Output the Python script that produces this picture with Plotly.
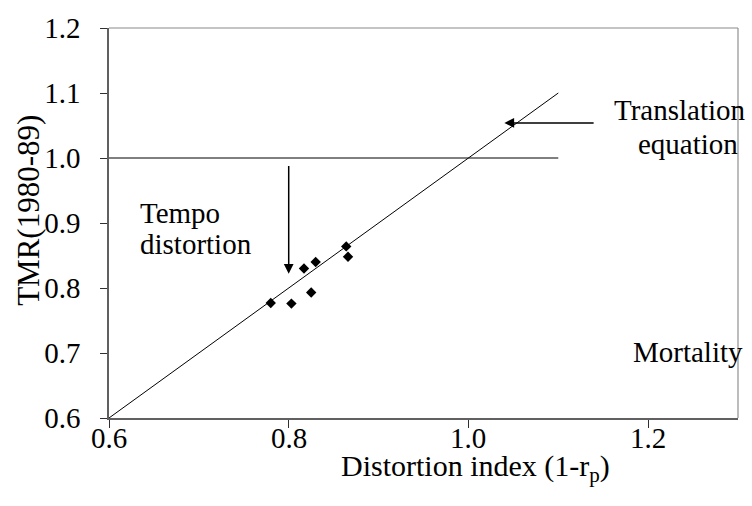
import plotly.graph_objects as go

# Data
dist_index = [0.780, 0.803, 0.817, 0.830, 0.825, 0.864, 0.866]
tmr = [0.777, 0.776, 0.830, 0.840, 0.793, 0.864, 0.848]

line_x = [0.6, 1.1]
line_y = [0.6, 1.1]
hline_x = [0.6, 1.1]
hline_y = [1.0, 1.0]

x_ticks = [0.6, 0.8, 1.0, 1.2]
x_tick_labels = ["0.6", "0.8", "1.0", "1.2"]
y_ticks = [0.6, 0.7, 0.8, 0.9, 1.0, 1.1, 1.2]

FONT = "Liberation Serif, Times New Roman, serif"
FS = 29

fig = go.Figure()
fig.add_trace(go.Scatter(x=line_x, y=line_y, mode="lines",
                         line=dict(color="black", width=1), showlegend=False))
fig.add_trace(go.Scatter(x=hline_x, y=hline_y, mode="lines",
                         line=dict(color="black", width=1), showlegend=False))
fig.add_trace(go.Scatter(x=dist_index, y=tmr, mode="markers",
                         marker=dict(symbol="diamond", size=8, color="black"),
                         showlegend=False))

# arrows
fig.add_annotation(x=0.8, y=0.822, ax=0.8, ay=0.99, xref="x", yref="y",
                   axref="x", ayref="y", showarrow=True, arrowhead=2,
                   arrowsize=1.3, arrowwidth=1.5, arrowcolor="black", text="")
fig.add_annotation(x=1.04, y=1.054, ax=1.141, ay=1.054, xref="x", yref="y",
                   axref="x", ayref="y", showarrow=True, arrowhead=2,
                   arrowsize=1.3, arrowwidth=1.5, arrowcolor="black", text="")

def label(x, y, text, anchor="left"):
    fig.add_annotation(x=x, y=y, xref="x", yref="y", text=text,
                       showarrow=False, xanchor=anchor, yanchor="middle",
                       font=dict(family=FONT, size=FS, color="black"))

label(1.16, 1.074, "Translation")
label(1.187, 1.022, "equation")
label(0.632, 0.915, "Tempo")
label(0.632, 0.868, "distortion")
label(1.181, 0.702, "Mortality")

# x tick labels (placed close to the axis, as in the reference)
for xv, txt in zip(x_ticks, x_tick_labels):
    fig.add_annotation(x=xv, y=-0.052, xref="x", yref="paper", text=txt,
                       showarrow=False, xanchor="center", yanchor="middle",
                       font=dict(family=FONT, size=FS, color="black"))

# axis titles
fig.add_annotation(x=1.008, y=-0.128, xref="x", yref="paper",
                   text="Distortion index (1-r<sub>p</sub>)",
                   showarrow=False, xanchor="center", yanchor="middle",
                   font=dict(family=FONT, size=30, color="black"))
fig.add_annotation(x=-0.129, y=0.92, xref="paper", yref="y",
                   text="TMR(1980-89)", textangle=-90,
                   showarrow=False, xanchor="center", yanchor="middle",
                   font=dict(family=FONT, size=31, color="black"))

# top/right border
fig.add_shape(type="line", xref="paper", yref="paper", x0=0, x1=1, y0=1, y1=1,
              line=dict(color="#b0b0b0", width=1.5))
fig.add_shape(type="line", xref="paper", yref="paper", x0=1, x1=1, y0=0, y1=1,
              line=dict(color="#909090", width=1.2))

fig.update_layout(
    width=752, height=506,
    margin=dict(l=109, r=14, t=16, b=88),
    paper_bgcolor="white", plot_bgcolor="white",
    font=dict(family=FONT, size=FS, color="black"),
    xaxis=dict(range=[0.6, 1.3], tickvals=x_ticks, showticklabels=False,
               showgrid=False, zeroline=False, showline=True,
               linecolor="#606060", linewidth=1.5, ticks="outside",
               ticklen=8, tickcolor="#303030", tickwidth=1.2),
    yaxis=dict(range=[0.6, 1.2], tickvals=y_ticks, tickformat=".1f",
               showgrid=False, zeroline=False, showline=True,
               linecolor="#606060", linewidth=1.5, ticks="outside",
               ticklen=7, tickcolor="#303030", tickwidth=1.2,
               ticklabelstandoff=14,
               tickfont=dict(family=FONT, size=FS, color="black")),
)

fig.write_html("out.html", config={"displayModeBar": False},
               post_script="document.body.style.margin='0';document.body.style.padding='0';")
